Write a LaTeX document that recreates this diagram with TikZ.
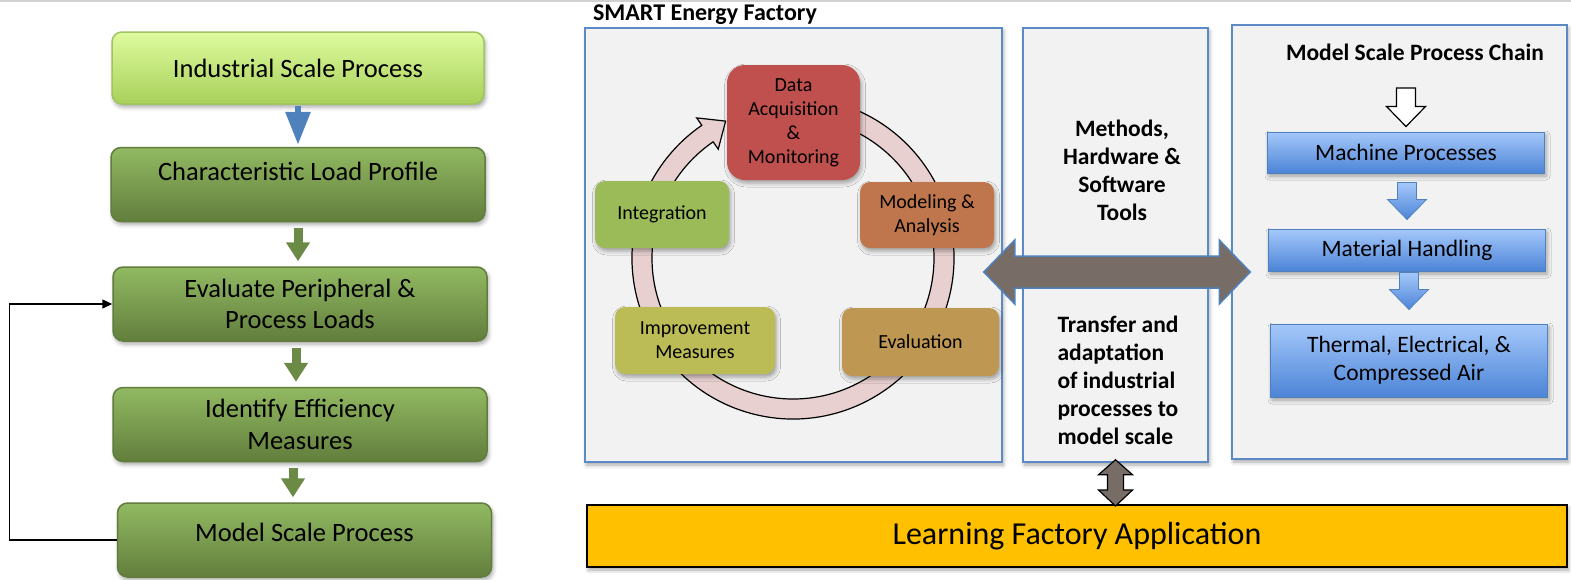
\documentclass[tikz,border=0pt]{standalone}
\usepackage{fontspec}
\setmainfont{Carlito}
\usetikzlibrary{calc,arrows.meta,shadows.blur}

\definecolor{panelgray}{RGB}{242,242,242}
\definecolor{panelblue}{RGB}{91,138,198}
\definecolor{limetop}{RGB}{222,251,158}
\definecolor{limebot}{RGB}{168,208,90}
\definecolor{limeline}{RGB}{160,196,96}
\definecolor{greentop}{RGB}{145,185,98}
\definecolor{greenbot}{RGB}{98,126,60}
\definecolor{greenline}{RGB}{98,124,62}
\definecolor{greenarrow}{RGB}{107,138,69}
\definecolor{steelblue}{RGB}{79,129,189}
\definecolor{bluetop}{RGB}{165,200,250}
\definecolor{bluebot}{RGB}{76,132,215}
\definecolor{ringpink}{RGB}{232,208,208}
\definecolor{datared}{RGB}{192,80,77}
\definecolor{modelorange}{RGB}{192,118,76}
\definecolor{integgreen}{RGB}{155,187,89}
\definecolor{improveolive}{RGB}{188,188,86}
\definecolor{evaltan}{RGB}{190,152,82}
\definecolor{arrowbrown}{RGB}{120,109,102}
\definecolor{lfayellow}{RGB}{255,192,0}

% block arrows between two points: style, start, tip
\newcommand{\blockdown}[3]{%
  \path[#1] let \p1=(#2), \p2=(#3) in
    (\x2-9.5pt,\y1) -- (\x2+9.5pt,\y1) -- (\x2+9.5pt,\y2+20pt) -- (\x2+19.5pt,\y2+20pt)
    -- (\x2,\y2) -- (\x2-19.5pt,\y2+20pt) -- (\x2-9.5pt,\y2+20pt) -- cycle;}
\newcommand{\dblhoriz}[3]{%
  \path[#1] let \p1=(#2), \p2=(#3) in
    (\x1,\y1) -- (\x1+31pt,\y1+32pt) -- (\x1+31pt,\y1+16pt) -- (\x2-31pt,\y1+16pt) -- (\x2-31pt,\y1+32pt)
    -- (\x2,\y1) -- (\x2-31pt,\y1-32pt) -- (\x2-31pt,\y1-16pt) -- (\x1+31pt,\y1-16pt) -- (\x1+31pt,\y1-32pt) -- cycle;}
\newcommand{\dblvert}[3]{%
  \path[#1] let \p1=(#2), \p2=(#3) in
    (\x1,\y1) -- (\x1+17pt,\y1-15pt) -- (\x1+8pt,\y1-15pt) -- (\x1+8pt,\y2+16pt) -- (\x1+17pt,\y2+16pt)
    -- (\x1,\y2) -- (\x1-17pt,\y2+16pt) -- (\x1-8pt,\y2+16pt) -- (\x1-8pt,\y1-15pt) -- (\x1-17pt,\y1-15pt) -- cycle;}

\tikzset{
  softshadow/.style={blur shadow={shadow xshift=1.5pt,shadow yshift=-3pt,shadow blur radius=4pt,shadow opacity=35}},
  lightstep/.style={draw=limeline,line width=1.5pt,rounded corners=10pt,top color=limetop,bottom color=limebot,
    minimum width=372pt,minimum height=72pt,align=center,font=\fontsize{26.5}{31.5}\selectfont,softshadow},
  darkstep/.style={draw=greenline,line width=1.5pt,rounded corners=10pt,top color=greentop,bottom color=greenbot,
    minimum width=374pt,minimum height=74pt,align=center,font=\fontsize{26.5}{31.5}\selectfont,softshadow},
  garrow/.style={-{Triangle[width=23pt,length=19pt]},line width=9pt,greenarrow,shorten <=6pt,shorten >=5pt},
  fbline/.style={-{Triangle[width=9pt,length=10pt]},line width=1.5pt,black},
  panel/.style={draw=panelblue,fill=panelgray,line width=1.5pt,softshadow},
  ringline/.style={draw=black,fill=ringpink,line width=1.2pt},
  cyclebox/.style={rounded corners=10pt,align=center,font=\fontsize{20}{24}\selectfont,softshadow},
  boldtext/.style={align=center,font=\bfseries\fontsize{23.5}{28}\selectfont},
  chainbox/.style={draw=steelblue,line width=1pt,top color=bluetop,bottom color=bluebot,
    minimum width=277pt,align=center,font=\fontsize{23.5}{28}\selectfont,softshadow},
  chainarrow/.style={draw=steelblue,line width=0.8pt,top color=bluetop,bottom color=bluebot},
  whitearrow/.style={draw=black,fill=white,line width=1.2pt},
  bigarrow/.style={draw=steelblue,fill=arrowbrown,line width=1.5pt},
  smallarrow/.style={draw=black,fill=arrowbrown,line width=1.2pt}
}

\begin{document}
\begin{tikzpicture}[x=1pt,y=1pt]
\useasboundingbox (0,0) rectangle (1571,-579);
\draw[black!18,line width=2pt] (0,-1) -- (1571,-1);

% Left: procedure
\node[lightstep] (isp) at (298,-68) {Industrial Scale Process};
\node[darkstep,text depth=26pt] (clp) at (298,-184.5) {Characteristic Load Profile};
\node[darkstep] (epl) at (300,-304) {Evaluate Peripheral \&\\Process Loads};
\node[darkstep] (iem) at (300,-424.5) {Identify Efficiency\\Measures};
\node[darkstep,text depth=15pt] (msp) at (304.5,-540) {Model Scale Process};
\draw[-{Triangle[width=24pt,length=33pt]},line width=6pt,steelblue,shorten <=1pt,shorten >=2pt]
  (isp.south) -- (isp.south |- clp.north);
\draw[garrow] (clp.south) -- (clp.south |- epl.north);
\draw[garrow] ([xshift=-4pt]epl.south) -- ([xshift=-4pt]epl.south |- iem.north);
\draw[garrow] ([xshift=-7pt]iem.south) -- ([xshift=-7pt]iem.south |- msp.north);
\draw[fbline] (msp.west) -| ([xshift=-103pt]epl.west) -- (epl.west);

% Middle: SMART Energy Factory cycle
\node[font=\bfseries\fontsize{24}{28}\selectfont] (seft) at (705,-15) {SMART Energy Factory};
\node[panel,minimum width=417pt,minimum height=434pt] (sef) at (793.5,-245) {};
\coordinate (ring) at (793,-258);
\draw[ringline] ($(ring)+(75:161)$) arc[start angle=75,end angle=-235.5,radius=161]
  -- ($(ring)+(124.5:170)$) -- ($(ring)+(124.5:151)+(34.5:22)$) -- ($(ring)+(124.5:132)$)
  -- ($(ring)+(124.5:141)$) arc[start angle=-235.5,end angle=75,radius=141] -- cycle;
\node[cyclebox,fill=datared,rounded corners=18pt,minimum width=133pt,minimum height=115pt] (dam)
  at (793.5,-122.5) {Data\\Acquisition\\\&\\Monitoring};
\node[cyclebox,fill=modelorange,minimum width=134pt,minimum height=66pt] (mda) at (927,-215) {Modeling \&\\Analysis};
\node[cyclebox,fill=integgreen,minimum width=134pt,minimum height=67pt] (intg) at (662,-214.5) {Integration};
\node[cyclebox,fill=improveolive,minimum width=160pt,minimum height=67pt] (imp) at (695,-340.5) {Improvement\\Measures};
\node[cyclebox,fill=evaltan,minimum width=157pt,minimum height=68pt] (evl) at (920.5,-342) {Evaluation};

% Methods and tools
\node[panel,minimum width=185pt,minimum height=434pt] (mid) at (1115.5,-245) {};
\node[boldtext] (tools) at (1122,-170) {Methods,\\Hardware \&\\Software\\Tools};
\node[boldtext,align=left,anchor=west] (transfer) at (1054,-380)
  {Transfer and\\adaptation\\of industrial\\processes to\\model scale};

% Right: model scale process chain
\node[panel,minimum width=335pt,minimum height=434pt] (rb) at (1399.5,-242) {};
\node[boldtext] (chaint) at (1415,-52) {Model Scale Process Chain};
\node[chainbox,minimum height=41pt] (mp) at (1406,-152.5) {Machine Processes};
\node[chainbox,minimum height=42pt] (mh) at (1407,-250) {Material Handling};
\node[chainbox,minimum height=73pt] (tm) at (1409,-360.5) {Thermal, Electrical, \&\\Compressed Air};
\blockdown{whitearrow}{[yshift=-36pt]chaint.center}{[yshift=5pt]mp.north}
\blockdown{chainarrow}{[yshift=-9pt]mp.south}{[yshift=9pt]mh.north}
\blockdown{chainarrow}{[yshift=-1pt]mh.south}{[yshift=14pt]tm.north}

% Bottom: application
\node[draw=black,line width=2pt,fill=lfayellow,minimum width=980pt,minimum height=62pt,
  font=\fontsize{32}{36}\selectfont,softshadow] (lfa) at (1077,-536) {Learning Factory Application};
\dblhoriz{bigarrow}{$(sef.east)+(-19,-27)$}{[xshift=19pt]rb.west}
\dblvert{smallarrow}{[yshift=3pt]mid.south}{[yshift=-2pt]lfa.north}
\end{tikzpicture}
\end{document}
